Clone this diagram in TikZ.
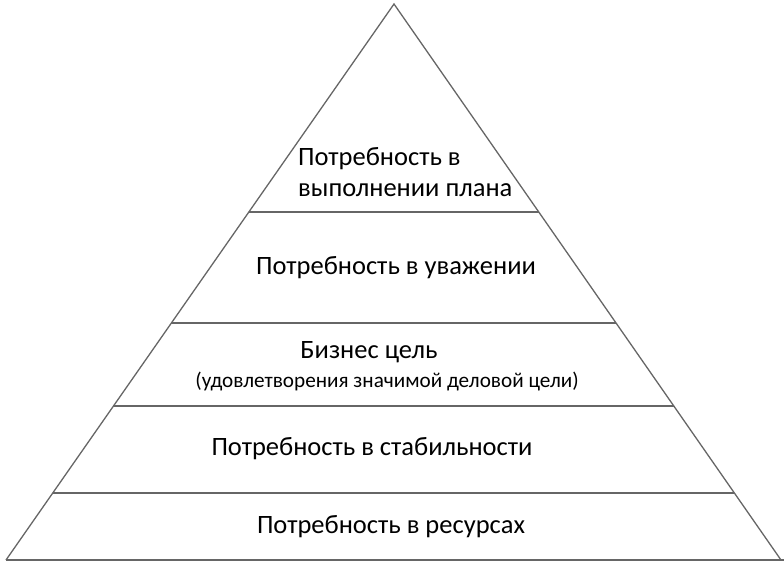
\documentclass[tikz,border=0pt]{standalone}
\usepackage{fontspec}
\setmainfont{Carlito}
\usepackage{tikz}
\usetikzlibrary{calc}

\begin{document}
\begin{tikzpicture}[
  x=1pt, y=-1pt,
  edge/.style={line width=1.3pt, draw=black!60},
  tier/.style={line width=1.6pt, draw=black!60},
  label/.style={font=\fontsize{26.5}{31}\selectfont, align=center, inner sep=0pt},
  sublabel/.style={font=\fontsize{21.2}{25}\selectfont, inner sep=0pt}
]

\useasboundingbox (0,0) rectangle (784,566);

% corners of the pyramid
\coordinate (apex) at (394,4);
\coordinate (bl) at (6,560);
\coordinate (br) at (781,560);

\draw[edge, line join=miter] (bl) -- (apex) -- (br);
\draw[tier] (bl) -- (784,560);

% tier separators, from edge to edge
\foreach \y/\name in {212/a,323/b,406/c,493/d} {
  \pgfmathsetmacro{\t}{(\y-4)/556}
  \coordinate (l\name) at ($(apex)!\t!(bl)$);
  \coordinate (r\name) at ($(apex)!\t!(br)$);
  \draw[tier] (l\name) -- (r\name);
}

\node[label, align=left, anchor=west] (plan) at (298,172)
  {Потребность в\\выполнении плана};
\node[label] (respect) at (396,268) {Потребность в уважении};
\node[label] (business) at (369,352) {Бизнес цель};
\node[sublabel] (goal) at (387,381) {(удовлетворения значимой деловой цели)};
\node[label] (stability) at (372,449) {Потребность в стабильности};
\node[label] (resources) at (391,527) {Потребность в ресурсах};

\end{tikzpicture}
\end{document}
